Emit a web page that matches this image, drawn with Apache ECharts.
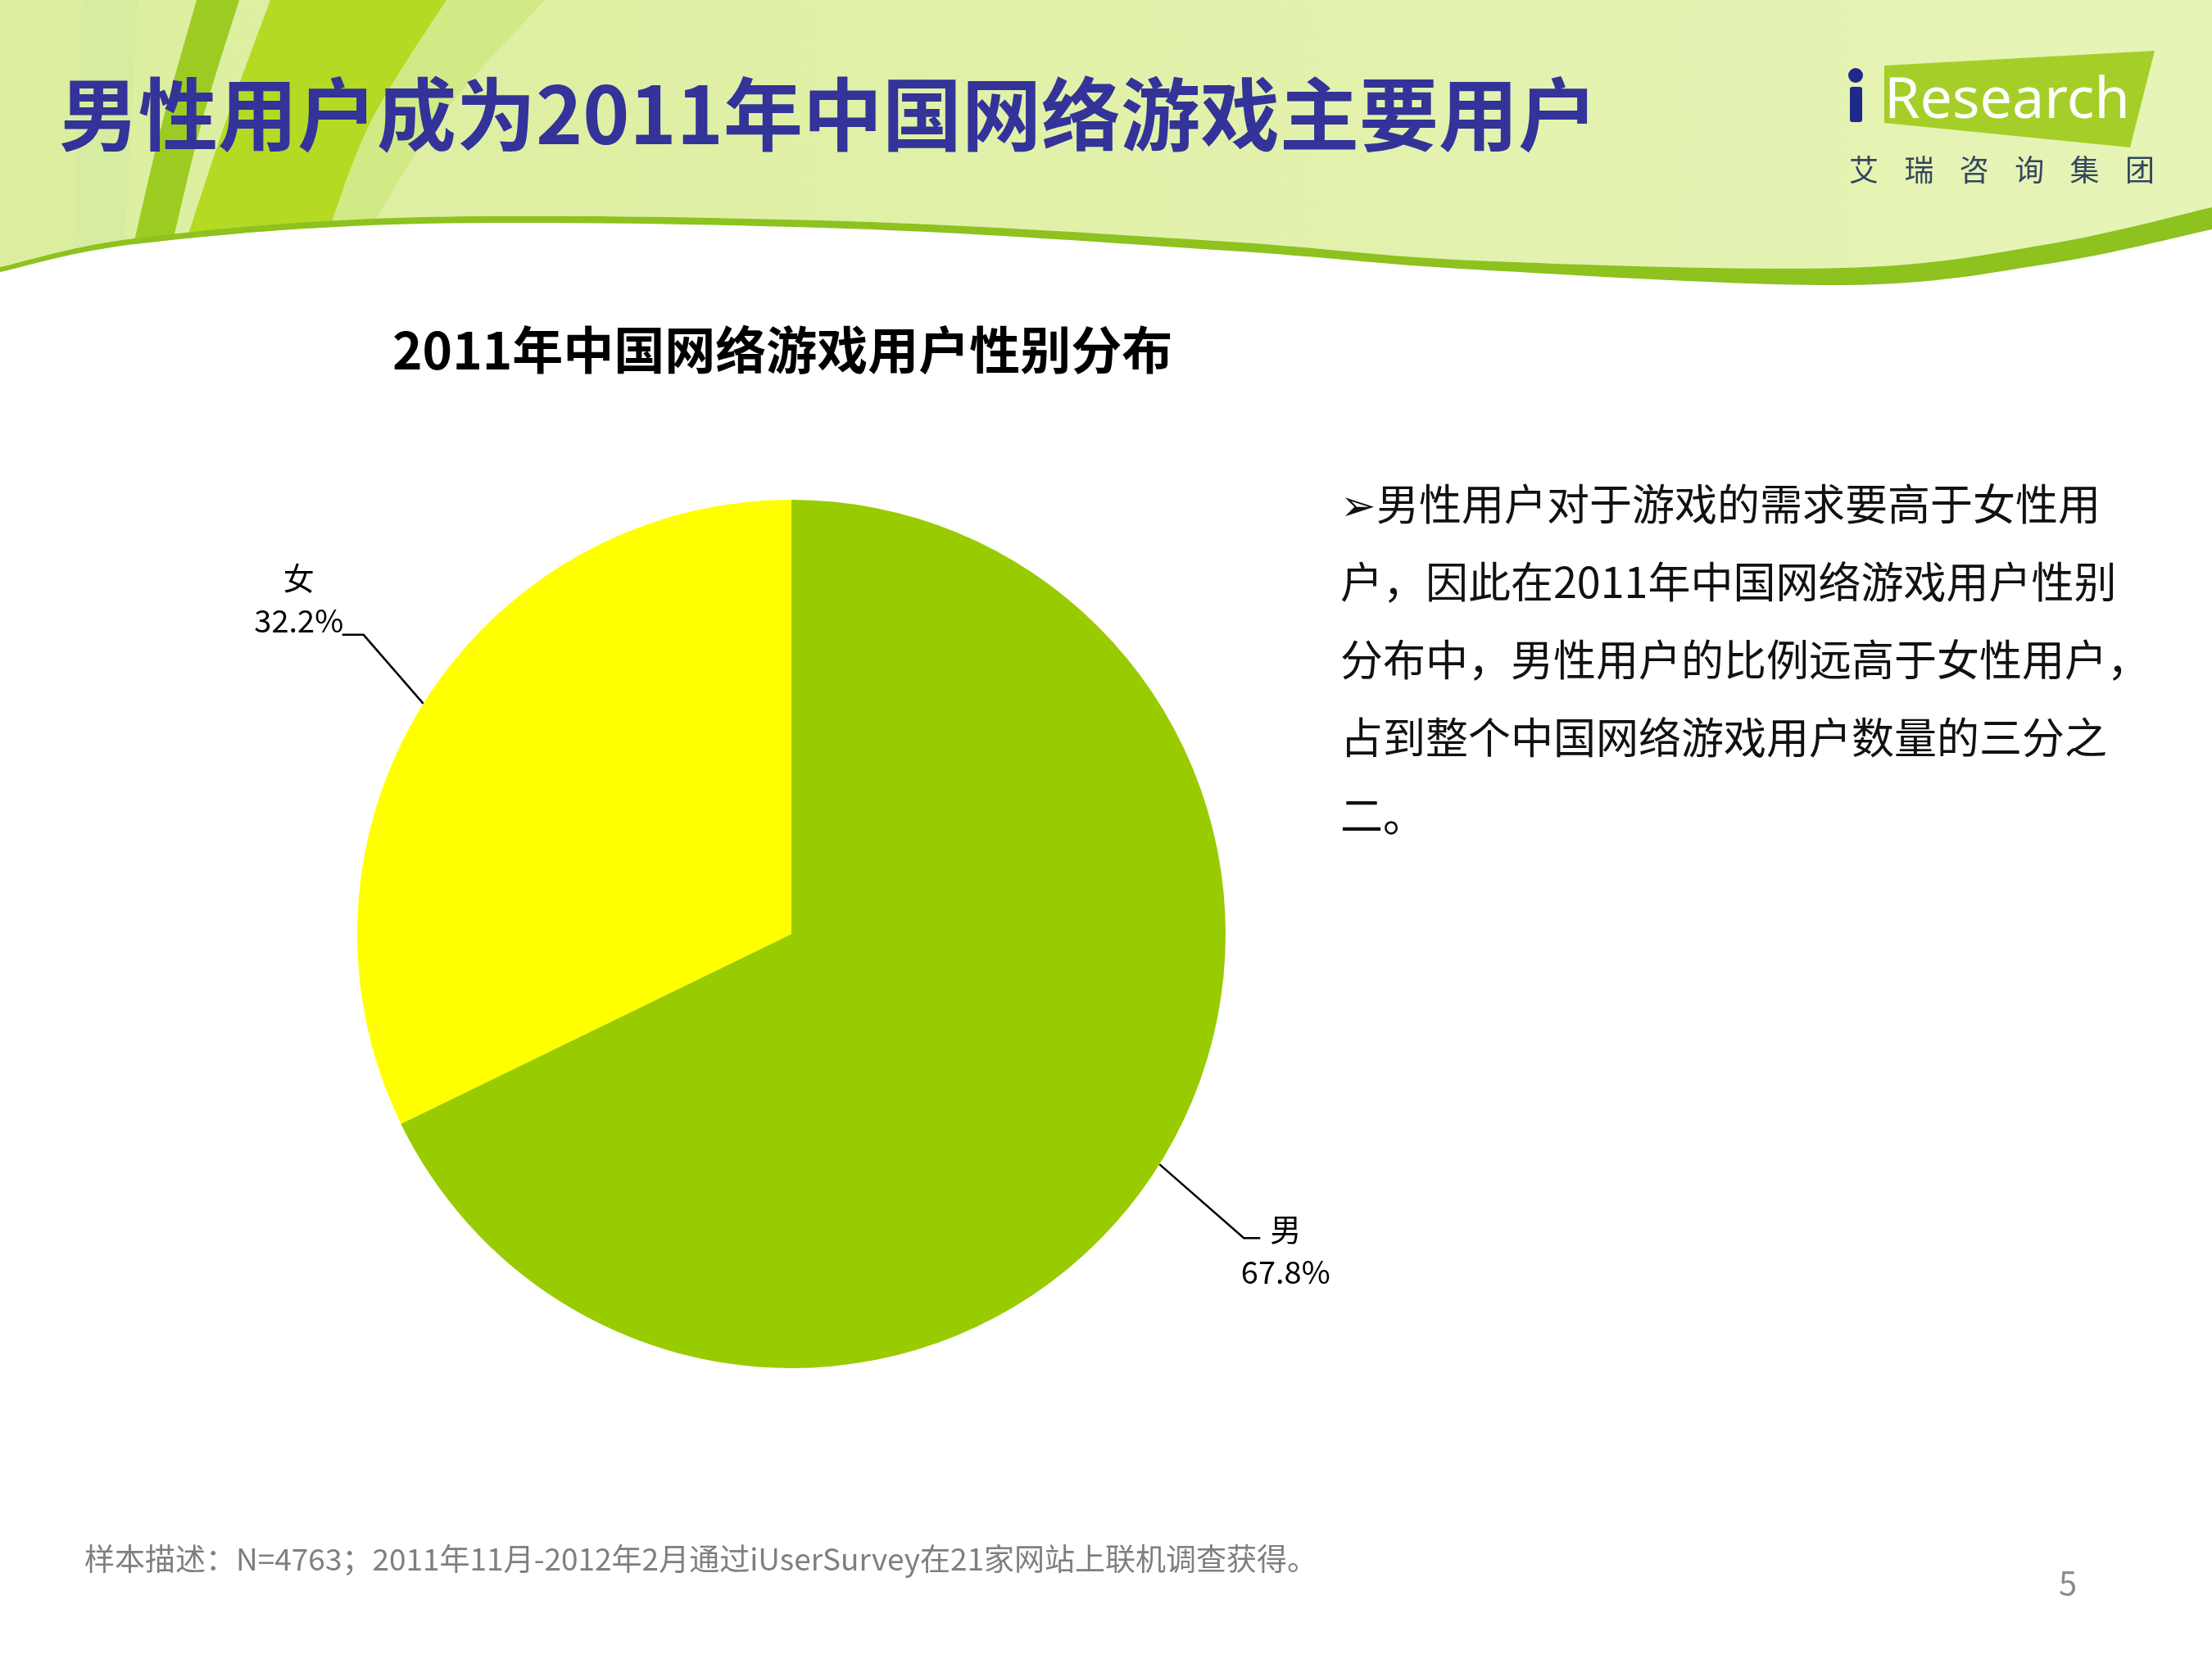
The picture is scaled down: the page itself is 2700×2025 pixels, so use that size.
<!DOCTYPE html>
<html>
<head>
  <meta charset="UTF-8">
  <title>2011年中国网络游戏用户性别分布</title>
  <script src="https://cdn.jsdelivr.net/npm/echarts@6/dist/echarts.min.js"></script>
  <style>
    html, body { margin: 0; padding: 0; background: #ffffff; }
    #main { width: 2700px; height: 2025px; }
  </style>
</head>
<body>
  <div id="main"></div>

  <script>
    // ---- data ----
    var genders = ['男', '女'];
    var shares = [67.8, 32.2];
    var sliceColors = ['#99CC00', '#FFFF00'];

    var pageTitle = '男性用户成为2011年中国网络游戏主要用户';
    var chartTitle = '2011年中国网络游戏用户性别分布';
    var noteLines = [
      '\u27A2男性用户对于游戏的需求要高于女性用',
      '户，因此在2011年中国网络游戏用户性别',
      '分布中，男性用户的比例远高于女性用户，',
      '占到整个中国网络游戏用户数量的三分之',
      '二。'
    ];
    var footnote = '样本描述：N=4763；2011年11月-2012年2月通过iUserSurvey在21家网站上联机调查获得。';
    var pageNo = '5';
    var brandChars = ['艾', '瑞', '咨', '询', '集', '团'];

    var FONT = '"Noto Sans CJK SC", "Noto Sans", sans-serif';

    // catmull-rom through a few points, for the header decoration
    function curve(pts, steps) {
      var out = [];
      for (var i = 0; i < pts.length - 1; i++) {
        var p0 = pts[Math.max(i - 1, 0)], p1 = pts[i], p2 = pts[i + 1], p3 = pts[Math.min(i + 2, pts.length - 1)];
        for (var s = 0; s < steps; s++) {
          var t = s / steps, t2 = t * t, t3 = t2 * t;
          var pt = [];
          for (var k = 0; k < 2; k++) {
            pt.push(0.5 * (2 * p1[k] + (-p0[k] + p2[k]) * t +
              (2 * p0[k] - 5 * p1[k] + 4 * p2[k] - p3[k]) * t2 +
              (-p0[k] + 3 * p1[k] - 3 * p2[k] + p3[k]) * t3));
          }
          out.push(pt);
        }
      }
      out.push(pts[pts.length - 1]);
      return out;
    }

    function strip(leftEdge, rightEdge) {
      return curve(leftEdge, 12).concat(curve(rightEdge, 12).reverse());
    }

    var bandTop = curve([[0, 326], [172, 290], [516, 265], [1033, 270], [1500, 295], [1800, 318], [2250, 327], [2500, 298], [2700, 253]], 16);
    var bandBottom = curve([[0, 332], [172, 297], [516, 273], [1033, 279], [1500, 306], [1800, 329], [2250, 348], [2500, 322], [2700, 280]], 16);

    var headerPoly = [[0, 0], [2700, 0]].concat(bandTop.slice().reverse());
    var whitePoly = bandBottom.concat([[2700, 420], [0, 420]]);
    var bandPoly = bandTop.concat(bandBottom.slice().reverse());

    var graphics = [
      {
        type: 'polygon', z: 0, silent: true,
        shape: { points: headerPoly },
        style: {
          fill: new echarts.graphic.LinearGradient(0, 0, 1, 0, [
            { offset: 0, color: '#DCEE9E' },
            { offset: 1, color: '#E6F4B6' }
          ])
        }
      },
      { type: 'polygon', z: 1, silent: true, shape: { points: strip([[100, 0], [95, 150], [88, 330]], [[168, 0], [160, 150], [150, 330]]) }, style: { fill: '#D6ECA0' } },
      { type: 'polygon', z: 1, silent: true, shape: { points: strip([[240, 0], [198, 150], [158, 320]], [[292, 0], [246, 150], [205, 320]]) }, style: { fill: '#9CCC22' } },
      { type: 'polygon', z: 1, silent: true, shape: { points: strip([[330, 0], [275, 150], [222, 310]], [[545, 0], [452, 150], [395, 300]]) }, style: { fill: '#B4DA24' } },
      { type: 'polygon', z: 1, silent: true, shape: { points: strip([[545, 0], [452, 150], [395, 300]], [[665, 0], [540, 140], [445, 290]]) }, style: { fill: '#D2EA86' } },
      { type: 'polygon', z: 2, silent: true, shape: { points: whitePoly }, style: { fill: '#ffffff' } },
      { type: 'polygon', z: 3, silent: true, shape: { points: bandPoly }, style: { fill: '#8DC21F' } },

      // logo
      { type: 'polygon', z: 4, silent: true, shape: { points: [[2300, 80], [2630, 62], [2600, 180], [2300, 150]] }, style: { fill: '#A5CF28' } },
      { type: 'circle', z: 5, silent: true, shape: { cx: 2265, cy: 92, r: 9 }, style: { fill: '#1E2A8A' } },
      { type: 'rect', z: 5, silent: true, shape: { x: 2258, y: 106, width: 15, height: 43, r: 3 }, style: { fill: '#1E2A8A' } },
      {
        type: 'text', z: 5, silent: true,
        style: { text: 'Research', x: 2300, y: 124, fill: '#ffffff', font: '70px "Noto Sans", sans-serif', textVerticalAlign: 'middle' }
      },

      // right-hand note
      {
        type: 'group', z: 5, silent: true,
        children: noteLines.map(function (line, i) {
          return {
            type: 'text',
            style: { text: line, x: 1636, y: 615 + i * 95, fill: '#111111', font: '52px ' + FONT, textVerticalAlign: 'middle' }
          };
        })
      },
      {
        type: 'text', z: 5, silent: true,
        style: { text: footnote, x: 103, y: 1903, fill: '#7F7F7F', font: '37px ' + FONT, textVerticalAlign: 'middle' }
      },
      {
        type: 'text', z: 5, silent: true,
        style: { text: pageNo, x: 2524, y: 1932, fill: '#8C8C8C', font: '40px ' + FONT, textAlign: 'center', textVerticalAlign: 'middle' }
      }
    ];

    brandChars.forEach(function (ch, i) {
      graphics.push({
        type: 'text', z: 5, silent: true,
        style: { text: ch, x: 2275 + i * 67.4, y: 207, fill: '#34465E', font: '36px ' + FONT, textAlign: 'center', textVerticalAlign: 'middle' }
      });
    });

    // label placement relative to the slice edge point the library gives us
    var labelOffsets = [
      { dx: 154, dy: 105, bend: [103, 90], tail: 20 },
      { dx: -152, dy: -127, bend: [-73, -84], tail: -26 }
    ];

    var chartDom = document.getElementById('main');
    var myChart = echarts.init(chartDom);

    var option = {
      backgroundColor: '#ffffff',
      animation: false,
      title: [
        {
          text: pageTitle,
          left: 67,
          top: 86,
          textStyle: { color: '#333399', fontSize: 97, fontWeight: 'bold', fontFamily: FONT }
        },
        {
          text: chartTitle,
          left: 474,
          top: 391,
          textStyle: { color: '#000000', fontSize: 62, fontWeight: 'bold', fontFamily: FONT }
        }
      ],
      graphic: graphics,
      series: [
        {
          type: 'pie',
          center: [966, 1140],
          radius: 530,
          startAngle: 90,
          clockwise: true,
          avoidLabelOverlap: false,
          silent: true,
          data: genders.map(function (g, i) {
            return { name: g, value: shares[i], itemStyle: { color: sliceColors[i] } };
          }),
          label: {
            show: true,
            position: 'outside',
            formatter: function (p) {
              return p.name + '\n' + p.value.toFixed(1) + '%';
            },
            color: '#000000',
            fontSize: 38,
            lineHeight: 52,
            fontFamily: FONT
          },
          labelLine: {
            show: true,
            length: 100,
            length2: 25,
            lineStyle: { color: '#000000', width: 2.5 }
          },
          labelLayout: function (p) {
            var o = labelOffsets[p.dataIndex];
            var a = p.labelLinePoints && p.labelLinePoints[0];
            if (!a) {
              return {};
            }
            var b = [a[0] + o.bend[0], a[1] + o.bend[1]];
            return {
              x: a[0] + o.dx,
              y: a[1] + o.dy,
              align: 'center',
              verticalAlign: 'middle',
              labelLinePoints: [a, b, [b[0] + o.tail, b[1]]]
            };
          }
        }
      ]
    };

    myChart.setOption(option);
  </script>
</body>
</html>
